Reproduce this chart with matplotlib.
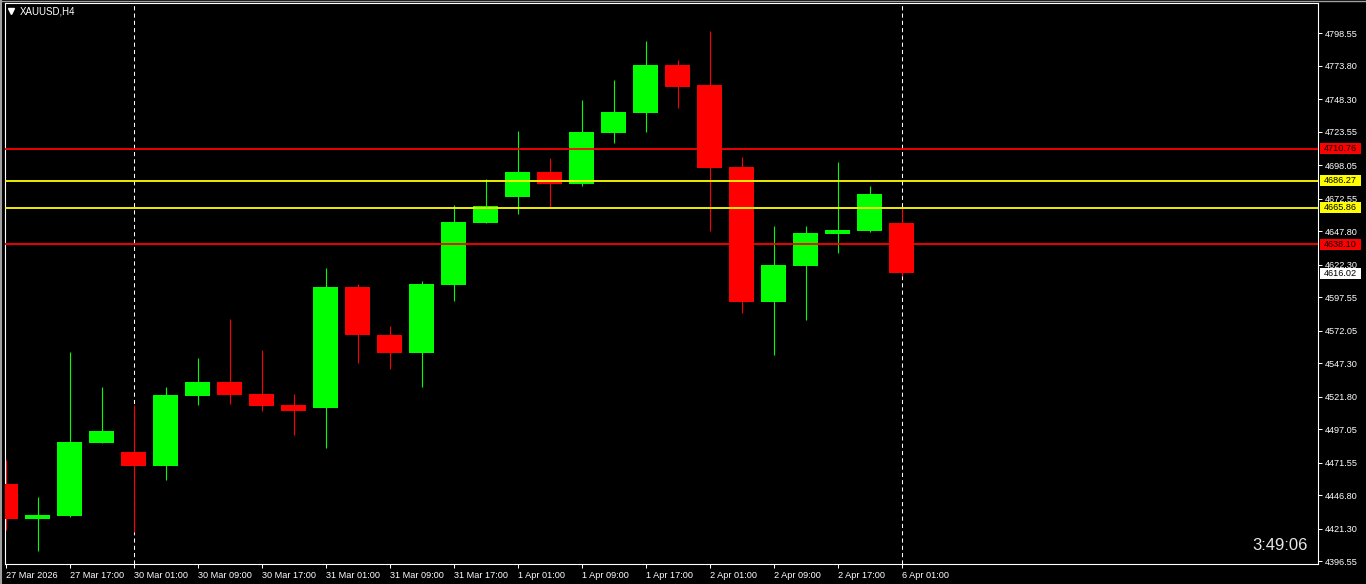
import matplotlib
matplotlib.use('Agg')
import matplotlib.pyplot as plt
from matplotlib.patches import Rectangle
from matplotlib.lines import Line2D
import matplotlib.transforms as mtransforms

plt.rcParams['font.family'] = ['Liberation Sans', 'DejaVu Sans']

# ---------------- data ----------------
symbol = "XAUUSD,H4"
timer_text = "3:49:06"

opens  = [4455.4, 4428.7, 4431.3, 4486.6, 4479.8, 4469.1, 4522.4, 4533.1, 4523.9, 4515.5,
          4513.3, 4605.4, 4568.8, 4555.1, 4606.9, 4654.1, 4673.9, 4692.9, 4683.8, 4722.6,
          4737.9, 4774.4, 4759.2, 4696.8, 4594.0, 4621.4, 4645.8, 4648.0, 4654.1]
highs  = [4473.7, 4445.5, 4555.9, 4529.3, 4515.5, 4529.3, 4551.3, 4581.0, 4557.4, 4523.9,
          4619.9, 4607.7, 4575.7, 4610.0, 4667.8, 4687.6, 4724.2, 4703.6, 4747.8, 4763.0,
          4792.7, 4778.2, 4800.3, 4704.4, 4651.8, 4651.8, 4700.6, 4682.3, 4666.3]
lows   = [4420.4, 4404.6, 4430.5, 4486.6, 4419.1, 4458.5, 4515.5, 4516.3, 4511.0, 4492.7,
          4482.8, 4547.5, 4543.0, 4529.3, 4594.7, 4654.1, 4661.0, 4666.3, 4682.3, 4715.0,
          4723.4, 4741.7, 4648.0, 4585.6, 4553.6, 4580.3, 4631.3, 4647.3, 4614.0]
closes = [4428.7, 4431.8, 4487.4, 4495.8, 4469.1, 4523.2, 4533.1, 4523.2, 4514.8, 4511.0,
          4605.4, 4568.8, 4555.1, 4607.7, 4654.9, 4667.1, 4692.9, 4683.8, 4723.4, 4738.6,
          4774.4, 4757.7, 4696.0, 4594.0, 4622.1, 4646.5, 4648.8, 4676.2, 4616.02]

tick_idx = [0, 2, 4, 6, 8, 10, 12, 14, 16, 18, 20, 22, 24, 26, 28]
tick_labels = ["27 Mar 2026", "27 Mar 17:00", "30 Mar 01:00", "30 Mar 09:00", "30 Mar 17:00",
               "31 Mar 01:00", "31 Mar 09:00", "31 Mar 17:00", "1 Apr 01:00", "1 Apr 09:00",
               "1 Apr 17:00", "2 Apr 01:00", "2 Apr 09:00", "2 Apr 17:00", "6 Apr 01:00"]
separator_idx = [4, 28]

ytick_vals = [4798.55, 4773.80, 4748.30, 4723.55, 4698.05, 4672.55, 4647.80, 4622.30, 4597.55,
              4572.05, 4547.30, 4521.80, 4497.05, 4471.55, 4446.80, 4421.30, 4396.55]

level_prices = [4710.76, 4686.27, 4665.86, 4638.10]
level_colors = ['#ff0000', '#ffff00', '#ffff00', '#ff0000']
bid_price = 4616.02

# ---------------- figure ----------------
W, H = 1366, 584
fig = plt.figure(figsize=(W / 100, H / 100), dpi=100, facecolor='black')
ax = fig.add_axes([5 / W, (H - 564) / H, (1318 - 5) / W, (564 - 3) / H])
ax.set_facecolor('black')

bar_px = 32.0
plot_w = 1313.0
ax.set_xlim(-0.5 / bar_px, -0.5 / bar_px + plot_w / bar_px)
ax.set_ylim(4394.5, 4821.6)

up_col = '#00ff00'
dn_col = '#ff0000'
body_w = 25 / 32

for x in separator_idx:
    ax.axvline(x, color='white', lw=0.75, ls=(0, (4, 3)), zorder=1)

for i, (o, h, l, c) in enumerate(zip(opens, highs, lows, closes)):
    col = up_col if c >= o else dn_col
    ax.plot([i, i], [l, h], color=col, lw=0.8, zorder=2, solid_capstyle='butt')
    lo, hi = min(o, c), max(o, c)
    if hi - lo < 1.0:
        hi = lo + 1.0
    ax.add_patch(Rectangle((i - body_w / 2, lo), body_w, hi - lo, facecolor=col,
                           edgecolor='none', zorder=3))

for p, col in zip(level_prices, level_colors):
    ax.axhline(p, color=col, lw=1.3, zorder=4)

# spines / ticks
for s in ax.spines.values():
    s.set_color('white')
    s.set_linewidth(0.8)

ax.yaxis.tick_right()
ax.set_yticks(ytick_vals)
ax.set_yticklabels([f"{v:.2f}" for v in ytick_vals])
ax.tick_params(axis='y', colors='white', labelsize=6.6, length=3, width=0.75, pad=2,
               labelcolor='white')
ax.set_xticks(tick_idx)
ax.set_xticklabels(tick_labels)
ax.tick_params(axis='x', colors='white', labelsize=6.6, length=3, width=0.75, pad=2,
               labelcolor='white')
for lbl in ax.get_xticklabels():
    lbl.set_ha('left')

# price boxes on right axis
trans = mtransforms.blended_transform_factory(ax.transAxes, ax.transData)
ppu = 561.0 / (4821.6 - 4394.5)  # pixels per price unit
box_h = 11.0 / ppu
box_x = (1320 - 5) / plot_w
box_w = 41 / plot_w
txt_x = (1340.5 - 5) / plot_w
for p, col in list(zip(level_prices, level_colors)) + [(bid_price, '#ffffff')]:
    ax.add_patch(Rectangle((box_x, p - box_h / 2), box_w, box_h, transform=trans,
                           facecolor=col, edgecolor='none', clip_on=False, zorder=10))
    ax.text(txt_x, p, f"{p:.2f}", transform=trans, ha='center', va='center',
            fontsize=6.6, color='black', clip_on=False, zorder=11)

# title with triangle
fig.add_artist(Line2D([11 / W], [1 - 11 / H], marker='v', markersize=4.5,
                      color='white', linestyle='none', transform=fig.transFigure))
fig.text(20 / W, 1 - 11 / H, symbol, color='white', fontsize=7, ha='left', va='center')

# timer
fig.text(1308 / W, 1 - 545 / H, timer_text, color='#e8e8e8', fontsize=12,
         ha='right', va='center')

# outer gray border
fig.add_artist(Line2D([1 / W, 1 / W], [0, 1], color='#a0a0a0', lw=1.5,
                      transform=fig.transFigure))
fig.add_artist(Line2D([0, 1], [1 - 0.5 / H, 1 - 0.5 / H], color='#a0a0a0', lw=1.0,
                      transform=fig.transFigure))

fig.savefig('out.png', dpi=100, facecolor='black')
